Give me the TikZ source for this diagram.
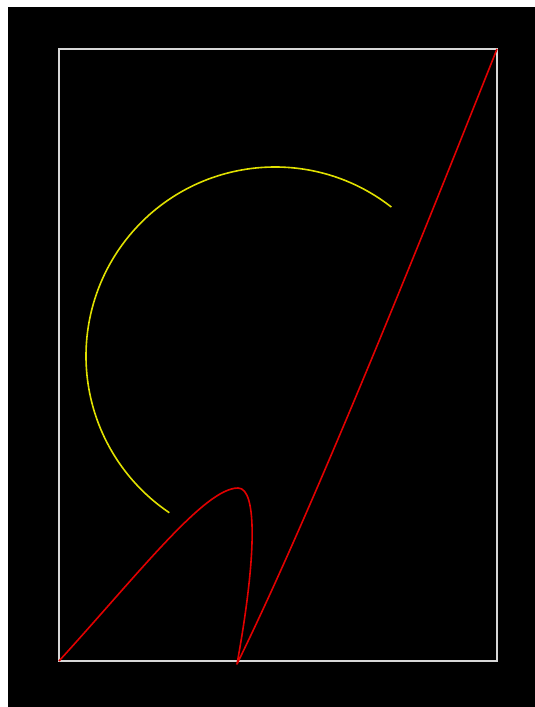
\documentclass[tikz,border=0pt]{standalone}
\usepackage{xcolor}
\usepackage{tikz}
\usetikzlibrary{calc}

\definecolor{framegray}{RGB}{215,215,215}
\definecolor{arcyellow}{RGB}{225,225,0}
\definecolor{curvered}{RGB}{225,0,0}

\begin{document}
\begin{tikzpicture}[x=1pt, y=-1pt,
    frame/.style={draw=framegray, line width=2pt},
    arcline/.style={draw=arcyellow, line width=1.6pt},
    redcurve/.style={draw=curvered, line width=1.6pt, line join=round}]
    % page and black canvas
    \fill[white] (0,0) rectangle (535,707);
    \fill[black] (8,7) rectangle (535,707);
    \useasboundingbox (0,0) rectangle (535,707);

    % frame corners
    \coordinate (bl) at (59,661);
    \coordinate (tr) at (497,49);
    \draw[frame] (bl) rectangle (tr);

    % yellow arc
    \coordinate (c) at (275,356);
    \draw[arcline] ($(c)+(-52:189)$) arc[start angle=-52, end angle=-236, radius=189];

    % red curve with cusp at the bottom
    \coordinate (peak) at (238,488);
    \coordinate (cusp) at (237,664);
    \draw[redcurve] (bl) .. controls (140,572) and (205,488) .. (peak)
        .. controls (258,488) and (256,560) .. (cusp)
        .. controls (312,511) and (417,250) .. (tr);
\end{tikzpicture}
\end{document}
